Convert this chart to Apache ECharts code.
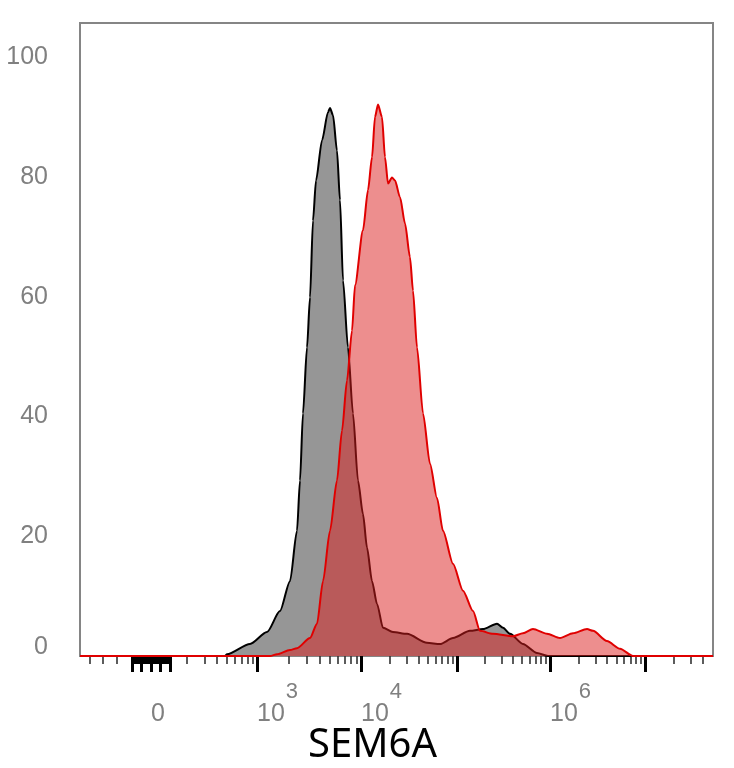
<!DOCTYPE html>
<html>
<head>
<meta charset="utf-8">
<title>SEM6A</title>
<script src="https://cdn.jsdelivr.net/npm/echarts@6.0.0/dist/echarts.min.js"></script>
<style>
  html, body { margin: 0; padding: 0; background: #fff; }
  #chart { width: 734px; height: 768px; }
</style>
</head>
<body>
<div id="chart"></div>
<script>
// histogram x positions are in display channels (0..1024, biexponential scale), y in % of max
var grayX = [0, 234.6, 237.8, 275.0, 302.5, 323.5, 339.7, 351.0, 355.9, 360.7, 367.2, 372.1, 376.9, 381.8, 391.5, 401.2, 404.4, 409.3, 415.7, 420.6, 425.5, 433.5, 441.6, 449.7, 457.8, 464.3, 472.4, 480.5, 490.2, 506.3, 529.0, 561.3, 582.4, 603.4, 630.9, 651.9, 674.6, 684.3, 695.6, 716.6, 739.3, 757.1, 1024];
var grayY = [0, 0, 0.3, 2.0, 4.0, 7.5, 12.5, 20.9, 29.3, 40.5, 51.5, 59.9, 72.7, 79.4, 86.1, 90.8, 91.5, 90.3, 84.4, 76.1, 62.7, 51.5, 40.5, 29.3, 23.7, 18.1, 12.5, 8.7, 4.7, 4.0, 3.7, 2.2, 2.0, 3.0, 4.2, 4.5, 5.4, 4.7, 3.7, 2.0, 0.5, 0, 0];

var redX = [0, 307.4, 318.7, 339.7, 351.0, 372.1, 383.4, 393.1, 404.4, 415.7, 423.8, 431.9, 440.0, 444.9, 457.8, 465.9, 472.4, 477.2, 482.1, 488.5, 493.4, 498.3, 504.7, 509.6, 517.7, 525.8, 533.8, 538.7, 545.2, 554.9, 566.2, 577.5, 587.2, 603.4, 619.6, 635.8, 647.1, 668.1, 700.5, 716.6, 732.8, 755.5, 776.5, 797.5, 820.2, 829.9, 852.5, 873.6, 894.6, 1024];
var redY = [0, 0, 0.3, 1.0, 1.3, 3.0, 5.4, 12.5, 20.9, 29.3, 37.6, 46.0, 54.3, 61.9, 71.1, 77.8, 83.3, 90.0, 92.1, 90.0, 83.3, 78.9, 79.9, 79.4, 76.6, 72.2, 66.6, 61.0, 51.5, 40.5, 32.1, 26.4, 20.9, 15.4, 10.9, 7.5, 4.2, 3.7, 3.3, 3.8, 4.5, 3.7, 3.0, 3.8, 4.5, 4.2, 2.5, 1.2, 0, 0];

// biexponential axis: fluorescence value -> display channel
var scaleVals = [-400, -300, -200, -100, 0, 100, 200, 1e3, 1e4, 1e5, 1e6, 1e7, 1e8];
var scaleChan = [16.2, 37.2, 59.9, 84.1, 114.9, 145.6, 173.1, 286.3, 454.6, 609.9, 760.3, 914.0, 1068.0];

// axis ticks and labels, in fluorescence units
var majorTickVals = [-100, -50, 0, 50, 100, 1e3, 1e4, 1e5, 1e6, 1e7];
var labelVals = [0, 1e3, 1e4, 1e6];
var labelBase = ['0', '10', '10', '10'];
var labelExp = [' ', '3', '4', '6'];
var yTicks = [0, 20, 40, 60, 80, 100];

function toChan(v) {
    for (var i = 0; i < scaleVals.length - 1; i++) {
        var a = scaleVals[i], b = scaleVals[i + 1];
        if (v >= a && v <= b) {
            var t;
            if ((a >= 100 && b >= 100) || (a <= -100 && b <= -100)) {
                t = (Math.log10(Math.abs(v)) - Math.log10(Math.abs(a))) / (Math.log10(Math.abs(b)) - Math.log10(Math.abs(a)));
            } else {
                t = (v - a) / (b - a);
            }
            return scaleChan[i] + t * (scaleChan[i + 1] - scaleChan[i]);
        }
    }
    return v < 0 ? scaleChan[0] : scaleChan[scaleChan.length - 1];
}

function minorTickVals() {
    var out = [-400, -300, -200];
    for (var n = 2; n <= 6; n++) {
        for (var m = 2; m <= 9; m++) out.push(m * Math.pow(10, n));
    }
    out.push(2e7, 3e7, 4e7);
    return out;
}

// dense linear ticks around zero
function zeroTickVals() {
    var out = [];
    for (var k = -100; k <= 100; k += 5) out.push(k);
    return out;
}

function pairs(xs, ys) {
    var d = [];
    for (var i = 0; i < xs.length; i++) d.push([xs[i], ys[i]]);
    return d;
}

var myChart = echarts.init(document.getElementById('chart'));

var tickFont = 'Liberation Sans, Arial, sans-serif';

function plainAxis() {
    return {
        type: 'value',
        position: 'bottom',
        min: 0,
        max: 1024,
        axisLine: { show: false },
        splitLine: { show: false },
        axisLabel: { show: false }
    };
}

var minorAxis = plainAxis();
minorAxis.axisTick = {
    show: true,
    length: 8,
    lineStyle: { color: '#333', width: 1.6 },
    customValues: minorTickVals().map(toChan)
};
minorAxis.name = 'SEM6A';
minorAxis.nameLocation = 'middle';
minorAxis.nameGap = 70;
minorAxis.nameTextStyle = {
    fontFamily: 'Noto Sans, Open Sans, sans-serif',
    fontSize: 40,
    color: '#000',
    padding: [0, 48, 0, 0]
};

var zeroAxis = plainAxis();
zeroAxis.axisTick = {
    show: true,
    length: 8,
    lineStyle: { color: '#000', width: 2.5 },
    customValues: zeroTickVals().map(toChan)
};

var majorAxis = plainAxis();
majorAxis.axisTick = {
    show: true,
    length: 16,
    lineStyle: { color: '#000', width: 3 },
    customValues: majorTickVals.map(toChan)
};
majorAxis.axisLabel = {
    show: true,
    margin: 25,
    align: 'left',
    customValues: labelVals.map(toChan),
    formatter: function (value) {
        for (var i = 0; i < labelVals.length; i++) {
            if (Math.abs(toChan(labelVals[i]) - value) < 0.5) {
                return '{b|' + labelBase[i] + '}{s|' + labelExp[i] + '}';
            }
        }
        return '';
    },
    rich: {
        b: { fontFamily: tickFont, fontSize: 25, lineHeight: 25, color: '#808080', verticalAlign: 'bottom' },
        s: { fontFamily: tickFont, fontSize: 22, color: '#808080', padding: [0, 0, 24, 1] }
    }
};

var option = {
    animation: false,
    grid: {
        left: 80,
        right: 21,
        top: 23,
        bottom: 112,
        outerBoundsMode: 'none',
        show: true,
        borderColor: '#858585',
        borderWidth: 2
    },
    xAxis: [minorAxis, zeroAxis, majorAxis],
    yAxis: {
        type: 'value',
        min: 0,
        max: 105.7,
        interval: 20,
        axisLine: { show: false },
        axisTick: { show: false },
        splitLine: { show: false },
        axisLabel: {
            margin: 32,
            customValues: yTicks,
            formatter: function (v) {
                if (v === 0) return '{z|0}';
                return '{n|' + v + '}';
            },
            rich: {
                n: { fontFamily: tickFont, fontSize: 25, color: '#808080' },
                z: { fontFamily: tickFont, fontSize: 25, color: '#808080', padding: [0, 0, 18, 0] }
            }
        }
    },
    series: [{
        name: 'control',
        type: 'line',
        xAxisIndex: 0,
        data: pairs(grayX, grayY),
        showSymbol: false,
        smooth: 0.25,
        smoothMonotone: 'x',
        lineStyle: { color: '#000', width: 2 },
        areaStyle: { color: '#969696', opacity: 1 },
        z: 2
    }, {
        name: 'SEM6A',
        type: 'line',
        xAxisIndex: 0,
        data: pairs(redX, redY),
        showSymbol: false,
        smooth: 0.25,
        smoothMonotone: 'x',
        lineStyle: { color: '#e00000', width: 2 },
        areaStyle: { color: 'rgba(220,30,30,0.5)', opacity: 1 },
        z: 3
    }]
};

myChart.setOption(option);
</script>
</body>
</html>
